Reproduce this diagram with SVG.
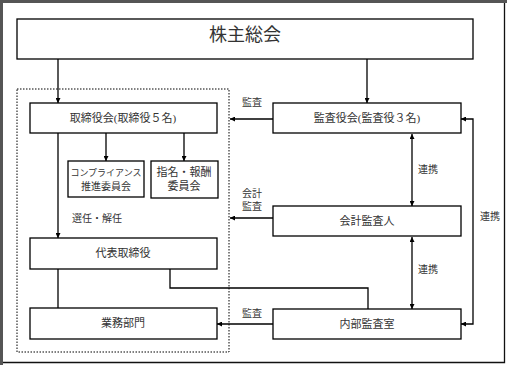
<svg xmlns="http://www.w3.org/2000/svg" width="507" height="365" viewBox="0 0 507 365">
<style>
.box{fill:#fff;stroke:#000;stroke-width:1.3}
.ln{fill:none;stroke:#000;stroke-width:1.3}
text{font-family:"Liberation Serif","Noto Sans CJK JP",serif;fill:#333;font-size:11px;text-anchor:middle}
.lbl{font-size:10px}
</style>
<defs>
<marker id="ah" viewBox="0 0 10 10" refX="10" refY="5" markerWidth="5" markerHeight="5" orient="auto-start-reverse" markerUnits="userSpaceOnUse">
<path d="M0,0 L10,5 L0,10 z" fill="#000"/>
</marker>
</defs>
<rect x="0" y="0" width="507" height="365" fill="#fff"/>
<path d="M1.5,365 V1.5 H507" fill="none" stroke="#555" stroke-width="3"/>
<path d="M504.5,3 V362.5 H3" fill="none" stroke="#111" stroke-width="1.3"/>
<rect x="17" y="89" width="212" height="263" fill="none" stroke="#000" stroke-width="1" stroke-dasharray="1.5,1.5"/>
<g id="connectors">
<path class="ln" d="M58,59 V103" marker-end="url(#ah)"/>
<path class="ln" d="M367,59 V103" marker-end="url(#ah)"/>
<path class="ln" d="M273,119 H230" marker-end="url(#ah)"/>
<path class="ln" d="M106,133 V161" marker-end="url(#ah)"/>
<path class="ln" d="M184,133 V161" marker-end="url(#ah)"/>
<path class="ln" d="M58,133 V238" marker-end="url(#ah)"/>
<path class="ln" d="M273,218 H230" marker-end="url(#ah)"/>
<path class="ln" d="M412,134 V206" marker-start="url(#ah)" marker-end="url(#ah)"/>
<path class="ln" d="M412,237 V309" marker-start="url(#ah)" marker-end="url(#ah)"/>
<path class="ln" d="M58,269 V308"/>
<path class="ln" d="M170,269 V288 H368 V309"/>
<path class="ln" d="M273,324 H217" marker-end="url(#ah)"/>
<path class="ln" d="M461,119 H473 V324 H461" marker-start="url(#ah)" marker-end="url(#ah)"/>
<text class="lbl" x="252" y="106">監査</text>
<text class="lbl" x="252" y="197">会計</text>
<text class="lbl" x="252" y="210">監査</text>
<text class="lbl" x="252" y="317">監査</text>
<text class="lbl" x="97" y="222">選任・解任</text>
<text class="lbl" x="428" y="173">連携</text>
<text class="lbl" x="428" y="273">連携</text>
<text class="lbl" x="490" y="220">連携</text>
</g>
<g id="shareholders"><rect class="box" x="17" y="19" width="456" height="40"/><text x="245" y="41" style="font-size:18px">株主総会</text></g>
<g id="board"><rect class="box" x="30" y="103" width="187" height="30"/><text x="123" y="122">取締役会(取締役５名)</text></g>
<g id="auditors"><rect class="box" x="273" y="103" width="188" height="30"/><text x="367" y="122">監査役会(監査役３名)</text></g>
<g id="compliance"><rect class="box" x="68" y="161" width="76" height="36"/><text x="106" y="176" style="font-size:9px">コンプライアンス</text><text x="106" y="190" style="font-size:10px">推進委員会</text></g>
<g id="nomination"><rect class="box" x="151" y="161" width="67" height="37"/><text x="184" y="176">指名・報酬</text><text x="184" y="190">委員会</text></g>
<g id="accounting"><rect class="box" x="273" y="206" width="188" height="30"/><text x="367" y="225">会計監査人</text></g>
<g id="ceo"><rect class="box" x="30" y="238" width="187" height="31"/><text x="123" y="257">代表取締役</text></g>
<g id="business"><rect class="box" x="30" y="308" width="187" height="31"/><text x="123" y="327">業務部門</text></g>
<g id="internal"><rect class="box" x="273" y="309" width="188" height="30"/><text x="367" y="328">内部監査室</text></g>
</svg>
